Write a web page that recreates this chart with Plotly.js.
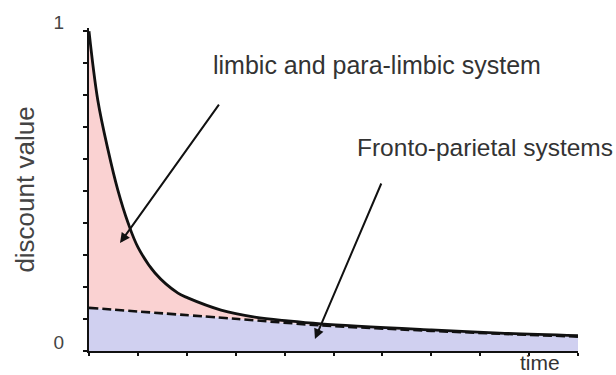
<!DOCTYPE html>
<html>
<head>
<meta charset="utf-8">
<script src="https://cdn.plot.ly/plotly-3.0.1.min.js"></script>
<style>
  html, body { margin: 0; padding: 0; background: #fff; }
  #chart { width: 616px; height: 375px; }
</style>
</head>
<body>
<div id="chart"></div>
<script>
// Hyperbolic (limbic) discount curve
const timeLimbic = [0, 0.18, 0.39, 0.59, 0.80, 1.0, 1.35, 1.82, 2.02, 2.7, 3.39, 4.07, 4.74, 7.0, 8.4, 10];
const valueLimbic = [1.0, 0.784, 0.628, 0.503, 0.40, 0.325, 0.244, 0.181, 0.166, 0.128, 0.106, 0.094, 0.085, 0.066, 0.056, 0.048];

// Exponential (fronto-parietal) discount line
const timeFronto = [0, 3.05, 4.74, 7.0, 8.4, 10];
const valueFronto = [0.135, 0.100, 0.080, 0.063, 0.054, 0.045];

// Axis ticks
const yTickVals = [0, 0.1, 0.2, 0.3, 0.4, 0.5, 0.6, 0.7, 0.8, 0.9, 1];
const yTickText = ['0', '', '', '', '', '', '', '', '', '', '1'];
const xTickVals = [0, 1, 2, 3, 4, 5, 6, 7, 8, 9, 10];

// Texts
const yTitle = 'discount value';
const xTitle = 'time';
const labelLimbic = 'limbic and para-limbic system';
const labelFronto = 'Fronto-parietal systems';

const FONT = '"Liberation Sans", Arial, sans-serif';

const traces = [
  {
    x: timeFronto, y: valueFronto, type: 'scatter', mode: 'lines',
    line: { color: '#111', width: 2.6, dash: '9px,4px', shape: 'spline', smoothing: 0.6 },
    fill: 'tozeroy', fillcolor: 'rgb(208,208,240)',
    hoverinfo: 'skip'
  },
  {
    x: timeLimbic, y: valueLimbic, type: 'scatter', mode: 'lines',
    line: { color: '#111', width: 2.8, shape: 'spline', smoothing: 1 },
    fill: 'tonexty', fillcolor: 'rgb(250,210,210)',
    hoverinfo: 'skip'
  }
];

const layout = {
  width: 616, height: 375,
  margin: { l: 89, r: 38, t: 28, b: 24 },
  paper_bgcolor: '#fff', plot_bgcolor: '#fff',
  showlegend: false,
  font: { family: FONT, color: '#333' },
  xaxis: {
    range: [0, 10], showgrid: false, zeroline: false,
    showline: true, linecolor: '#111', linewidth: 2,
    tickvals: xTickVals, ticks: 'outside', ticklen: 3, tickwidth: 2, tickcolor: '#111',
    showticklabels: false
  },
  yaxis: {
    range: [0, 1.01], showgrid: false, zeroline: false,
    showline: true, linecolor: '#111', linewidth: 2,
    tickvals: yTickVals, ticktext: yTickText,
    ticks: 'outside', ticklen: 4, tickwidth: 2, tickcolor: '#111',
    tickfont: { family: FONT, size: 19, color: '#444' },
    ticklabelshift: -9, ticklabelstandoff: 15,
    title: { text: yTitle, font: { family: FONT, size: 26, color: '#444' }, standoff: 12 }
  },
  annotations: [
    { xref: 'x', yref: 'y', x: 0.634, y: 0.3375, axref: 'pixel', ayref: 'pixel', ax: 100, ay: -140,
      showarrow: true, arrowhead: 2, arrowsize: 1, arrowwidth: 2, arrowcolor: '#111', text: '' },
    { xref: 'x', yref: 'y', x: 4.62, y: 0.0375, axref: 'pixel', ayref: 'pixel', ax: 67, ay: -157,
      showarrow: true, arrowhead: 2, arrowsize: 1, arrowwidth: 2, arrowcolor: '#111', text: '' },
    { xref: 'x', yref: 'y', x: 2.5, y: 0.894, xanchor: 'left', yanchor: 'middle', showarrow: false,
      text: labelLimbic, font: { family: FONT, size: 25, color: '#333' } },
    { xref: 'x', yref: 'y', x: 5.43, y: 0.6375, xanchor: 'left', yanchor: 'middle', showarrow: false,
      text: labelFronto, font: { family: FONT, size: 24.5, color: '#333' } },
    { xref: 'paper', yref: 'paper', x: 0.922, y: -0.0735, xanchor: 'center', yanchor: 'bottom', showarrow: false,
      borderpad: 0, text: xTitle, font: { family: FONT, size: 21, color: '#333' } }
  ]
};

Plotly.newPlot('chart', traces, layout, { displayModeBar: false, staticPlot: true });
</script>
</body>
</html>
